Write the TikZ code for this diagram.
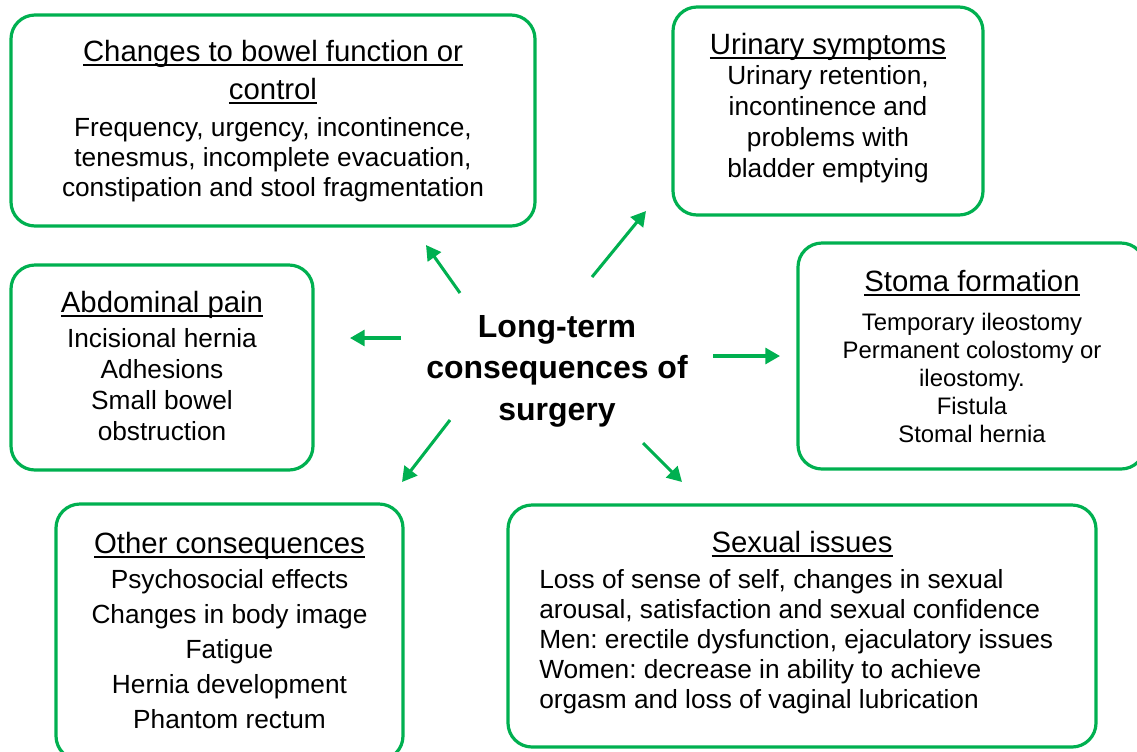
\documentclass[tikz,border=0pt]{standalone}
\usepackage{fontspec}
\setmainfont{Liberation Sans}
\usetikzlibrary{arrows.meta}
\definecolor{grx}{RGB}{0,176,80}
\frenchspacing
\newcommand{\hdl}[1]{\setbox0\hbox{#1}\rlap{\rule[-4.1pt]{\wd0}{1.5pt}}\box0}
\tikzset{
    panel/.style={draw=grx,line width=2.4pt,rounded corners=18pt,inner sep=0pt},
    hd/.style={anchor=base,inner sep=0pt,font=\fontsize{22}{26}\selectfont},
    bd/.style={anchor=base,inner sep=0pt,font=\fontsize{19.7}{23}\selectfont},
    arr/.style={grx,line width=2.3pt,-{Triangle[length=11pt,width=12pt]}}
}

\begin{document}
\begin{tikzpicture}[x=0.75pt,y=-0.75pt]
    \useasboundingbox (0,0) rectangle (1137,751);
    \clip (0,0) rectangle (1137,751);
    % panels
    \node [panel,minimum width=393pt,minimum height=158.25pt] (bowel) at (273,120.5) {};
    \node [panel,minimum width=232.5pt,minimum height=156pt] (urine) at (828,111) {};
    \node [panel,minimum width=226.5pt,minimum height=153.75pt] (abdo) at (162,367.5) {};
    \node [panel,minimum width=260.25pt,minimum height=169.5pt] (stoma) at (971.5,356) {};
    \node [panel,minimum width=260.25pt,minimum height=192pt] (other) at (229.5,632) {};
    \node [panel,minimum width=441pt,minimum height=181.5pt] (sex) at (802,626) {};
    % centre
    \foreach \s [count=\i from 0] in {Long-term,consequences of,surgery}
        \node [anchor=base,inner sep=0pt,font=\bfseries\fontsize{24}{28}\selectfont]
            (core-\i) at (557,337+41.5*\i) {\s};
    % headings
    \node [hd] (bowel-t) at (273,61) {\hdl{Changes to bowel function or}};
    \node [hd] (bowel-t2) at (273,99) {\hdl{control}};
    \node [hd] (urine-t) at (828,54) {\hdl{Urinary symptoms}};
    \node [hd] (abdo-t) at (162,312) {\hdl{Abdominal pain}};
    \node [hd] (stoma-t) at (972,291) {\hdl{Stoma formation}};
    \node [hd] (other-t) at (229.5,553) {\hdl{Other consequences}};
    \node [hd] (sex-t) at (802,552) {\hdl{Sexual issues}};
    % lists
    \foreach \s [count=\i from 0] in {{Frequency, urgency, incontinence,},
            {tenesmus, incomplete evacuation,},{constipation and stool fragmentation}}
        \node [bd] (bowel-\i) at (273,136+30*\i) {\s};
    \foreach \s [count=\i from 0] in {{Urinary retention,},{incontinence and},
            {problems with},{bladder emptying}}
        \node [bd] (urine-\i) at (828,84+31*\i) {\s};
    \foreach \s [count=\i from 0] in {Incisional hernia,Adhesions,Small bowel,obstruction}
        \node [bd] (abdo-\i) at (162,347+31*\i) {\s};
    \foreach \s [count=\i from 0] in {Temporary ileostomy,Permanent colostomy or,
            ileostomy.,Fistula,Stomal hernia}
        \node [bd,font=\fontsize{17.9}{21}\selectfont] (stoma-\i) at (972,330+28.2*\i) {\s};
    \foreach \s [count=\i from 0] in {Psychosocial effects,Changes in body image,
            Fatigue,Hernia development,Phantom rectum}
        \node [bd] (other-\i) at (229.5,588+35*\i) {\s};
    \foreach \s [count=\i from 0] in {{Loss of sense of self, changes in sexual},
            {arousal, satisfaction and sexual confidence},
            {Men: erectile dysfunction, ejaculatory issues},
            {Women: decrease in ability to achieve},
            {orgasm and loss of vaginal lubrication}}
        \node [bd,anchor=base west] (sex-\i) at (539,588+30*\i) {\s};
    % arrows
    \coordinate (ul-t) at (460,293); \coordinate (ul-h) at (426,245);
    \coordinate (ur-t) at (592,277); \coordinate (ur-h) at (646,211);
    \coordinate (l-t) at (401,338);  \coordinate (l-h) at (350,338);
    \coordinate (r-t) at (713,356);  \coordinate (r-h) at (780,356);
    \coordinate (dl-t) at (450,420); \coordinate (dl-h) at (402,482);
    \coordinate (dr-t) at (643,443); \coordinate (dr-h) at (682,482);
    \foreach \n in {ul,ur,l,r,dl,dr} {
        \draw [arr] (\n-t) -- (\n-h);
    }
\end{tikzpicture}
\end{document}
